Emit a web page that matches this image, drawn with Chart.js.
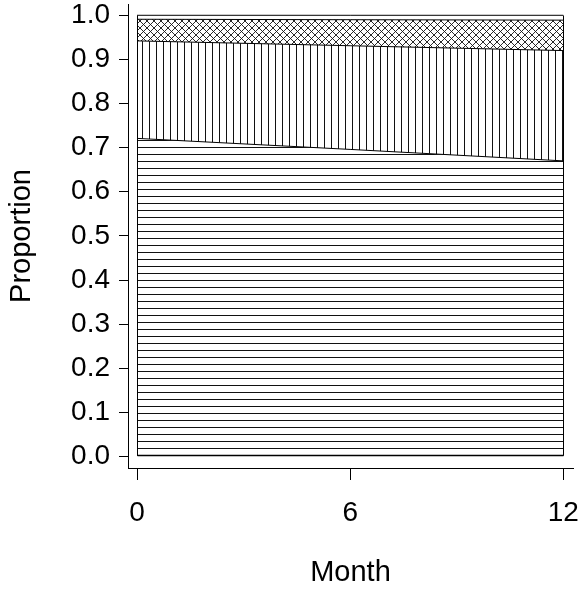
<!DOCTYPE html>
<html>
<head>
<meta charset="utf-8">
<script src="https://cdn.jsdelivr.net/npm/chart.js@4/dist/chart.umd.min.js"></script>
<style>
  html, body { margin: 0; padding: 0; background: #fff; }
  #wrap { width: 582px; height: 590px; }
</style>
</head>
<body>
<div id="wrap"><canvas id="c" width="582" height="590"></canvas></div>
<script>
// Months at which the proportions are known
const months = [0, 6, 12];

// Share of each group per month (bottom to top); each column sums to 1
const groupA = [0.721, 0.696, 0.670];
const groupB = [0.221, 0.235, 0.250];
const groupC = [0.049, 0.059, 0.069];
const groupD = [0.009, 0.010, 0.011];

// Axis ticks
const xTicks = [0, 6, 12];
const yTicks = [0.0, 0.1, 0.2, 0.3, 0.4, 0.5, 0.6, 0.7, 0.8, 0.9, 1.0];

// Hatch fills drawn on a small tile and repeated
function hatch(kind) {
  const tile = document.createElement('canvas');
  tile.width = 7; tile.height = 7;
  const g = tile.getContext('2d');
  g.fillStyle = '#fff';
  g.fillRect(0, 0, 7, 7);
  g.strokeStyle = '#111';
  g.lineWidth = 1;
  g.beginPath();
  if (kind === 'h') { g.moveTo(0, 0.5); g.lineTo(7, 0.5); }
  if (kind === 'v') { g.moveTo(2.5, 0); g.lineTo(2.5, 7); }
  if (kind === 'x') {
    g.lineWidth = 0.9;
    g.moveTo(-1, -1); g.lineTo(8, 8);
    g.moveTo(8, -1); g.lineTo(-1, 8);
  }
  g.stroke();
  return g.createPattern(tile, 'repeat');
}

// Running totals give the upper edge of each stacked band
const groups = [groupA, groupB, groupC, groupD];
const fills = [hatch('h'), hatch('v'), hatch('x'), '#fff'];
const running = months.map(() => 0);
const datasets = groups.map((g, k) => {
  const pts = months.map((m, i) => {
    running[i] += g[i];
    return { x: m, y: +running[i].toFixed(4) };
  });
  return {
    data: pts,
    fill: k === 0 ? 'origin' : '-1',
    backgroundColor: fills[k],
    borderColor: '#000',
    borderWidth: 1,
    pointRadius: 0,
    tension: 0
  };
});

// Outline of the stacked region: baseline and the two end edges
const bandEdges = {
  id: 'bandEdges',
  afterDatasetsDraw(chart) {
    const { ctx, scales: { x, y } } = chart;
    const x0 = Math.round(x.getPixelForValue(months[0])) + 0.5;
    const x1 = Math.round(x.getPixelForValue(months[months.length - 1])) + 0.5;
    const yb = Math.round(y.getPixelForValue(0)) - 0.5;
    const yt = Math.round(y.getPixelForValue(1)) + 0.5;
    ctx.save();
    ctx.strokeStyle = '#000';
    ctx.lineWidth = 1;
    ctx.beginPath();
    ctx.moveTo(x0, yt); ctx.lineTo(x0, yb); ctx.lineTo(x1, yb); ctx.lineTo(x1, yt);
    ctx.stroke();
    ctx.lineWidth = 1.5;
    ctx.beginPath();
    ctx.moveTo(x0, yb); ctx.lineTo(x1, yb);
    ctx.stroke();
    ctx.restore();
  }
};

const tickFont = { family: "'Liberation Sans', Arial, Helvetica, sans-serif", size: 28 };
const titleFont = { family: "'Liberation Sans', Arial, Helvetica, sans-serif", size: 29 };

new Chart(document.getElementById('c'), {
  type: 'line',
  data: { datasets },
  plugins: [bandEdges],
  options: {
    responsive: false,
    animation: false,
    events: [],
    layout: { padding: { top: 4, right: 9, left: 0, bottom: 0 } },
    plugins: { legend: { display: false }, tooltip: { enabled: false } },
    scales: {
      x: {
        type: 'linear',
        min: -0.254,
        max: 12.273,
        afterBuildTicks(s) { s.ticks = xTicks.map(v => ({ value: v })); },
        afterFit(s) { s.height = 122; s.paddingLeft = 0; s.paddingRight = 0; },
        grid: { drawOnChartArea: false, drawTicks: true, tickLength: 12, color: '#000', lineWidth: 1 },
        border: { display: true, color: '#000', width: 1 },
        ticks: { color: '#000', font: tickFont, padding: 16, maxRotation: 0, autoSkip: false,
                 callback: v => String(v) },
        title: { display: true, text: 'Month', color: '#000', font: titleFont,
                 padding: { top: 0, bottom: 0 } }
      },
      y: {
        type: 'linear',
        min: -0.0261,
        max: 1.0256,
        afterBuildTicks(s) { s.ticks = yTicks.map(v => ({ value: v })); },
        afterFit(s) { s.width = 128; s.paddingTop = 0; s.paddingBottom = 0; },
        grid: { drawOnChartArea: false, drawTicks: true, tickLength: 9, color: '#000', lineWidth: 1 },
        border: { display: true, color: '#000', width: 1 },
        ticks: { color: '#000', font: tickFont, padding: 9, autoSkip: false,
                 callback: v => v.toFixed(1) },
        title: { display: true, text: 'Proportion', color: '#000', font: titleFont,
                 padding: { top: 5, bottom: 0 } }
      }
    }
  }
});
</script>
</body>
</html>
